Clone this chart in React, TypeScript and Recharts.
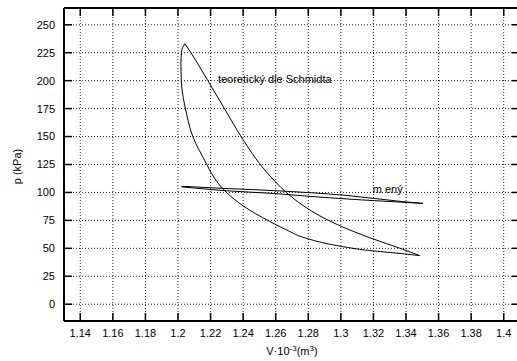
import { CartesianGrid, Line, LineChart, ReferenceDot, ReferenceLine, XAxis, YAxis } from "recharts";

const font = "'Liberation Sans', Arial, Helvetica, sans-serif";

const xDomain = [1.13, 1.41];
const yDomain = [-15, 265];
const xTicks = [1.14, 1.16, 1.18, 1.2, 1.22, 1.24, 1.26, 1.28, 1.3, 1.32, 1.34, 1.36, 1.38, 1.4];
const yTicks = [0, 25, 50, 75, 100, 125, 150, 175, 200, 225, 250];

// teoretický cyklus (Schmidt) – horní větev od vrcholu ke špičce
const theoryUpperV = [1.2042, 1.2073, 1.2134, 1.2196, 1.2257, 1.2329, 1.24, 1.25, 1.2595, 1.2665, 1.2766, 1.2871, 1.2975, 1.3177, 1.338, 1.3484];
const theoryUpperP = [233, 226.5, 212, 197, 182, 164, 147, 126, 110, 100, 88.5, 79, 71.5, 59.5, 49.2, 43.5];

// dolní větev od vrcholu ke špičce
const theoryLowerV = [1.2042, 1.2022, 1.2018, 1.202, 1.2032, 1.2053, 1.2073, 1.2091, 1.2177, 1.2196, 1.2298, 1.24, 1.2564, 1.2666, 1.2766, 1.2975, 1.3177, 1.338, 1.3484];
const theoryLowerP = [233, 226.5, 215, 200, 185, 170, 158, 150, 125, 119.5, 100, 88, 74, 66.5, 60, 52.5, 48, 45.2, 43.5];

// měřený cyklus
const measuredAV = [1.2022, 1.2288, 1.2594, 1.3036, 1.338, 1.3504];
const measuredAP = [105.5, 103.6, 101.6, 97.3, 91.8, 90.2];
const measuredBV = [1.2022, 1.2288, 1.2594, 1.2871, 1.338, 1.3504];
const measuredBP = [105.0, 101.6, 99.0, 95.8, 91.2, 90.2];

const toPoints = (vs: number[], ps: number[]) => vs.map((v, i) => ({ v, p: ps[i] }));

const theoryUpper = toPoints(theoryUpperV, theoryUpperP);
const theoryLower = toPoints(theoryLowerV, theoryLowerP);
const measuredA = toPoints(measuredAV, measuredAP);
const measuredB = toPoints(measuredBV, measuredBP);

// chart layout
const CHART_W = 530;
const CHART_H = 361;
const MARGIN = { top: 8, right: 10, bottom: 0, left: 0 };
const Y_AXIS_W = 64;
const X_AXIS_H = 40;
const PLOT_LEFT = MARGIN.left + Y_AXIS_W;
const PLOT_RIGHT = CHART_W - MARGIN.right;
const PLOT_TOP = MARGIN.top;
const PLOT_BOTTOM = CHART_H - MARGIN.bottom - X_AXIS_H;
const INNER_TICK = 8;

// same linear mapping as the chart's axes, used only for the top/right frame ticks
const sx = (v: number) => PLOT_LEFT + ((v - xDomain[0]) / (xDomain[1] - xDomain[0])) * (PLOT_RIGHT - PLOT_LEFT);
const sy = (p: number) => PLOT_BOTTOM - ((p - yDomain[0]) / (yDomain[1] - yDomain[0])) * (PLOT_BOTTOM - PLOT_TOP);

const fmtX = (v: number) => String(Number(v.toFixed(2)));

function XTitle({ viewBox }: any) {
  const cx = viewBox.x + viewBox.width / 2;
  const y = viewBox.y + 34;
  return (
    <text x={cx} y={y} textAnchor="middle" fontFamily={font} fontSize={11} fill="#000">
      V·10
      <tspan dy={-4} fontSize={8}>-3</tspan>
      <tspan dy={4}>(m</tspan>
      <tspan dy={-4} fontSize={8}>3</tspan>
      <tspan dy={4}>)</tspan>
    </text>
  );
}

function YTitle({ viewBox }: any) {
  const cy = viewBox.y + viewBox.height / 2 + 2;
  return (
    <text x={21} y={cy} transform={`rotate(-90 21 ${cy})`} textAnchor="middle" fontFamily={font} fontSize={11} fill="#000" stroke="none">
      p (kPa)
    </text>
  );
}

function FrameTicks() {
  return (
    <svg width={CHART_W} height={CHART_H} style={{ position: "absolute", left: 0, top: 0, pointerEvents: "none" }}>
      {xTicks.map((t) => (
        <line key={`tx${t}`} x1={sx(t)} x2={sx(t)} y1={PLOT_TOP} y2={PLOT_TOP + INNER_TICK} stroke="#000" strokeWidth={1.5} />
      ))}
      {yTicks.map((t) => (
        <line key={`ty${t}`} x1={PLOT_RIGHT - INNER_TICK} x2={PLOT_RIGHT} y1={sy(t)} y2={sy(t)} stroke="#000" strokeWidth={1.5} />
      ))}
    </svg>
  );
}

const axisLine = { stroke: "#000", strokeWidth: 2 };
const tickLine = { stroke: "#000", strokeWidth: 1.5 };
const tickStyle = { fill: "#000", fontSize: 11, fontFamily: font };

export default function App() {
  return (
    <div style={{ position: "fixed", left: 0, top: 0, width: 517, height: 361, overflow: "hidden", background: "#fff", fontFamily: font }}>
      <LineChart width={CHART_W} height={CHART_H} margin={MARGIN}>
        <CartesianGrid stroke="#222" strokeDasharray="1 2" />
        <XAxis
          dataKey="v"
          type="number"
          domain={xDomain}
          ticks={xTicks}
          interval={0}
          allowDataOverflow
          height={X_AXIS_H}
          tickSize={-INNER_TICK}
          tickMargin={16}
          tickFormatter={fmtX}
          tick={tickStyle}
          tickLine={tickLine}
          axisLine={axisLine}
          label={<XTitle />}
        />
        <YAxis
          type="number"
          domain={yDomain}
          ticks={yTicks}
          interval={0}
          allowDataOverflow
          width={Y_AXIS_W}
          tickSize={-INNER_TICK}
          tickMargin={17}
          tick={tickStyle}
          tickLine={tickLine}
          axisLine={axisLine}
          label={<YTitle />}
        />
        {/* frame: top and right borders */}
        <ReferenceLine y={yDomain[1]} stroke="#000" strokeWidth={2} ifOverflow="visible" />
        <ReferenceLine x={xDomain[1]} stroke="#000" strokeWidth={2} ifOverflow="visible" />
        <Line data={theoryUpper} dataKey="p" type="monotoneX" stroke="#000" strokeWidth={1} dot={false} activeDot={false} isAnimationActive={false} />
        <Line data={theoryLower} dataKey="p" type="monotoneY" stroke="#000" strokeWidth={1} dot={false} activeDot={false} isAnimationActive={false} />
        <Line data={measuredA} dataKey="p" type="monotoneX" stroke="#000" strokeWidth={1} dot={false} activeDot={false} isAnimationActive={false} />
        <Line data={measuredB} dataKey="p" type="monotoneX" stroke="#000" strokeWidth={1} dot={false} activeDot={false} isAnimationActive={false} />
        <ReferenceDot
          x={1.2245}
          y={201.4}
          r={0}
          fill="none"
          stroke="none"
          label={{ value: "teoretický dle Schmidta", position: "right", offset: 0, fontSize: 11, fill: "#000", fontFamily: font }}
        />
        <ReferenceDot
          x={1.3196}
          y={102.6}
          r={0}
          fill="none"
          stroke="none"
          label={{ value: "m ený", position: "right", offset: 0, fontSize: 11, fill: "#000", fontFamily: font }}
        />
      </LineChart>
      <FrameTicks />
    </div>
  );
}
